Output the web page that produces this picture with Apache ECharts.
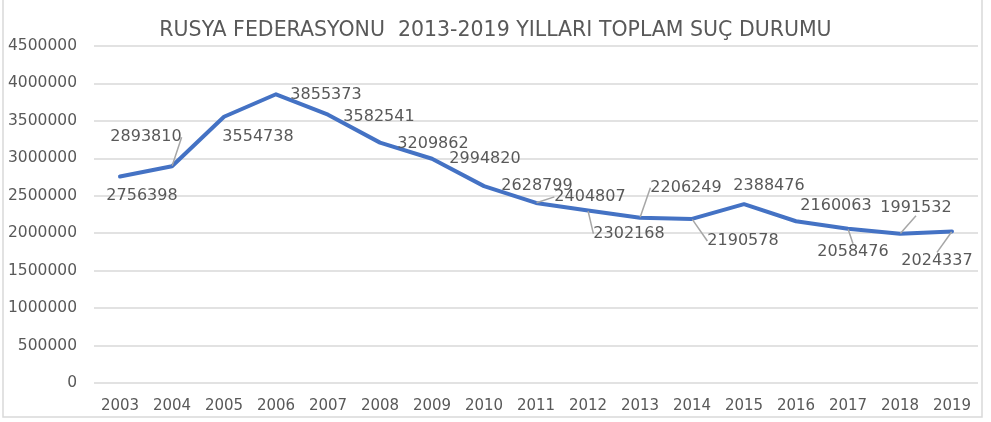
<!DOCTYPE html>
<html>
<head>
<meta charset="utf-8">
<script src="https://cdn.jsdelivr.net/npm/echarts@6/dist/echarts.min.js"></script>
<style>html,body{margin:0;padding:0;background:#fff}#c{width:991px;height:422px}</style>
</head>
<body>
<div id="c"></div>
<script>
const years = ['2003','2004','2005','2006','2007','2008','2009','2010','2011','2012','2013','2014','2015','2016','2017','2018','2019'];
const crimes = [2756398,2893810,3554738,3855373,3582541,3209862,2994820,2628799,2404807,2302168,2206249,2190578,2388476,2160063,2058476,1991532,2024337];
const yTicks = [0,500000,1000000,1500000,2000000,2500000,3000000,3500000,4000000,4500000];
const titleText = 'RUSYA FEDERASYONU  2013-2019 YILLARI TOPLAM SUÇ DURUMU';

// label placement (offset of label centre from its point) and leader-line flags
const labelDx = [22,-26,34,50,51,53,53,53,54,41,46,51,25,40,5,16,-15];
const labelDy = [19,-29,20,1,2,1,0,0,-6,23,-30,22,-18,-15,23,-26,29];
const leader  = [false,true,false,false,false,false,false,false,true,true,true,true,false,false,true,true,true];

const chart = echarts.init(document.getElementById('c'), null, {renderer:'canvas'});
const font = 'DejaVu Sans';
chart.setOption({
  animation:false,
  backgroundColor:'#fff',
  title:{text:titleText,left:'center',top:15,itemGap:0,
    textStyle:{fontFamily:font,fontSize:20.5,fontWeight:'normal',color:'#595959'}},
  grid:{left:94,right:13,top:46,bottom:39,containLabel:false},
  xAxis:{type:'category',data:years,boundaryGap:true,
    axisLine:{show:false},axisTick:{show:false},
    axisLabel:{fontFamily:font,fontSize:15,color:'#595959',margin:16}},
  yAxis:{type:'value',min:yTicks[0],max:yTicks[yTicks.length-1],interval:yTicks[1]-yTicks[0],
    axisLine:{show:false},axisTick:{show:false},
    axisLabel:{fontFamily:font,fontSize:15.5,color:'#595959',margin:17,formatter:v=>String(v)},
    splitLine:{lineStyle:{color:'#d9d9d9',width:1.5}}},
  series:[{
    type:'line',
    data:crimes.map((v,i)=>({value:v,labelLine:{show:leader[i]}})),
    symbol:'circle',symbolSize:1,showSymbol:true,
    itemStyle:{color:'#4472C4'},
    lineStyle:{color:'#4472C4',width:4,join:'round',cap:'round'},
    label:{show:true,position:'inside',fontFamily:font,fontSize:16,color:'#595959'},
    labelLine:{show:false,lineStyle:{color:'#a6a6a6',width:1.5}},
    labelLayout:function(p){return {dx:labelDx[p.dataIndex],dy:labelDy[p.dataIndex]};}
  }],
  graphic:[{type:'rect',shape:{x:3,y:-5,width:979,height:422},
    style:{fill:'none',stroke:'#d9d9d9',lineWidth:1.5},silent:true,z:-1}]
});
</script>
</body>
</html>
